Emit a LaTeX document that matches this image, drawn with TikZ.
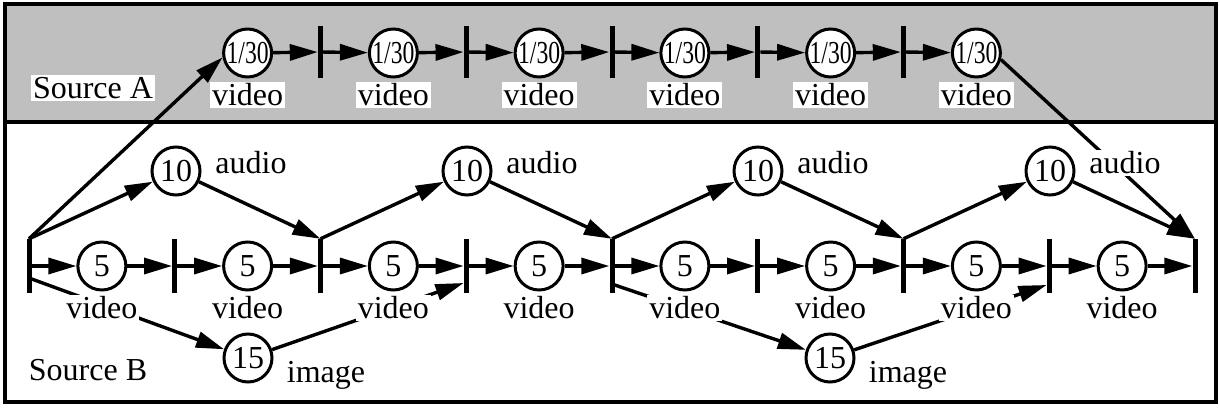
\documentclass[tikz,border=0pt]{standalone}
\usepackage{fontspec}
\setmainfont{Liberation Serif}
\usetikzlibrary{arrows.meta,calc}
\begin{document}
\begin{tikzpicture}[x=1pt,y=-1pt,
  lbl/.style={font=\fontsize{32}{34}\selectfont, fill=white, inner sep=2pt},
  cnode/.style={circle, draw, line width=3pt, fill=white, minimum size=48pt, inner sep=0pt, font=\fontsize{32}{34}\selectfont},
  barbox/.style={fill=black, minimum width=5pt, minimum height=54pt, inner sep=0pt},
  abarbox/.style={barbox, minimum height=51pt},
  arr/.style={line width=3.4pt, -{Triangle[length=28pt,width=16pt]}}]
\useasboundingbox (0,0) rectangle (1220,412);
\fill[black!25] (5,4) rectangle (1216,122);
\draw[line width=3.2pt] (5,4) rectangle (1216,402);
\draw[line width=3.2pt] (5,122) -- (1216,122);
% Source B bars and video circles
\foreach \k in {0,...,8} \node[barbox] (b\k) at ({29+145.75*\k},266) {};
\foreach \k in {1,...,8} \node[cnode] (c\k) at ({29+145.75*(\k-0.5)},266) {5};
% Source A bars and circles
\foreach \k in {2,...,6} \node[abarbox] (ab\k) at ({29+145.75*\k},52) {};
\foreach \k in {1,...,6} \node[cnode] (a\k) at ({29+145.75*(\k+0.5)},53) {\scalebox{0.74}[1]{1/30}};
% audio circles
\foreach \k/\x in {1/176,2/467,3/758,4/1050} \node[cnode] (au\k) at (\x,171) {10};
% image circles
\node[cnode] (i1) at (248,358) {15};
\node[cnode] (i2) at (830,358) {15};
% video chain B
\foreach \k in {1,...,8}{
  \pgfmathtruncatemacro\p{\k-1}
  \draw[arr] (b\p) -- (c\k);
  \draw[arr] (c\k) -- (b\k);
}
% video chain A
\foreach \k in {2,...,6}{
  \pgfmathtruncatemacro\p{\k-1}
  \draw[arr] (a\p) -- (ab\k);
  \draw[arr] (ab\k) -- (a\k);
}
\draw[arr] (b0.north) -- (a1.190);
\draw[arr] (a6.-15) -- (b8.north);
% audio
\draw[arr] (b0.north) -- (au1);
\draw[arr] (au1) -- (b2.north);
\draw[arr] (b2.north) -- (au2);
\draw[arr] (au2) -- (b4.north);
\draw[arr] (b4.north) -- (au3);
\draw[arr] (au3) -- (b6.north);
\draw[arr] (b6.north) -- (au4);
\draw[arr] (au4) -- (b8.north);
% image
\draw[arr] ($(b0.east)+(0,13)$) -- (i1);
\draw[arr] (i1) -- ($(b3.west)+(0,17)$);
\draw[arr] ($(b4.east)+(0,19)$) -- (i2);
\draw[arr] (i2) -- ($(b7.west)+(0,19)$);
% labels
\node[lbl] (srcA) at (93,88) {Source A};
\node[lbl] (srcB) at (88,370) {Source B};
\foreach \k in {1,...,6} \node[lbl] (va\k) at ($(a\k)+(0,42)$) {video};
\foreach \k in {1,...,8} \node[lbl] (vb\k) at ($(c\k)+(0,42)$) {video};
\foreach \k in {1,...,4} \node[lbl] (la\k) at ($(au\k)+(75,-8)$) {audio};
\node[lbl] (li1) at ($(i1)+(78,17)$) {image};
\node[lbl] (li2) at ($(i2)+(78,17)$) {image};
\end{tikzpicture}
\end{document}
